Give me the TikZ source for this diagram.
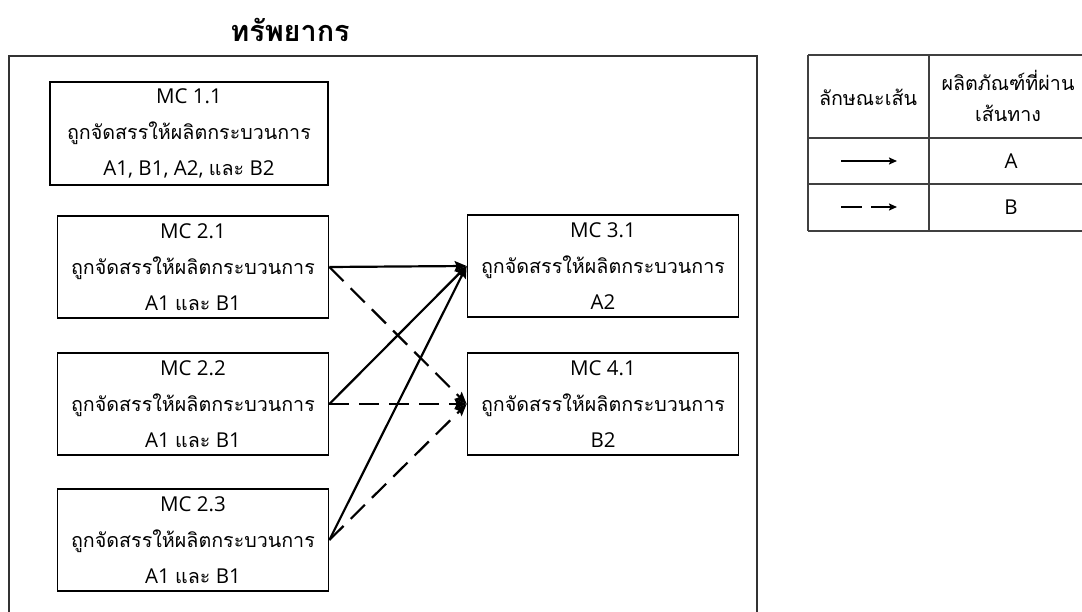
\documentclass[tikz,border=0pt]{standalone}
\usepackage{fontspec}
\setmainfont{Open Sans}
\newfontfamily\thaifont[Script=Thai,Scale=0.96]{Loma}
\newcommand\tha[1]{{\thaifont #1}}
\usetikzlibrary{arrows.meta}
\begin{document}
\begin{tikzpicture}[x=1pt,y=-1pt,
  mcbox/.style={draw, line width=1.7pt, minimum width=271pt, minimum height=102pt,
    align=center, inner sep=0pt, font=\fontsize{20.5}{36}\selectfont},
  flowA/.style={line width=2.2pt, -{Stealth[length=12pt,width=10pt,inset=2pt]}},
  flowB/.style={flowA, dash pattern=on 20pt off 10pt},
  legtext/.style={align=center, inner sep=0pt, font=\fontsize{20.5}{31}\selectfont},
  grid/.style={line width=1.1pt, draw=black!75}]
\clip (0,0) rectangle (1082,612);

% title and resource frame
\node[font=\fontsize{30}{32}\selectfont\bfseries\thaifont] (title) at (290,30) {ทรัพยากร};
\draw[line width=1.4pt, draw=black!80] (9,56) rectangle (757,640);

% machine boxes
\node[mcbox, minimum width=278pt, minimum height=103pt] (mc11) at (189,133.5)
  {MC 1.1\\ \tha{ถูกจัดสรรให้ผลิตกระบวนการ}\\ A1, B1, A2, \tha{และ} B2};
\node[mcbox] (mc21) at (193,267) {MC 2.1\\ \tha{ถูกจัดสรรให้ผลิตกระบวนการ}\\ A1 \tha{และ} B1};
\node[mcbox] (mc22) at (193,404) {MC 2.2\\ \tha{ถูกจัดสรรให้ผลิตกระบวนการ}\\ A1 \tha{และ} B1};
\node[mcbox] (mc23) at (193,540) {MC 2.3\\ \tha{ถูกจัดสรรให้ผลิตกระบวนการ}\\ A1 \tha{และ} B1};
\node[mcbox] (mc31) at (603,266) {MC 3.1\\ \tha{ถูกจัดสรรให้ผลิตกระบวนการ}\\ A2};
\node[mcbox] (mc41) at (603,404) {MC 4.1\\ \tha{ถูกจัดสรรให้ผลิตกระบวนการ}\\ B2};

% product A routes (solid) and product B routes (dashed)
\draw[flowA] (mc21.east) -- (mc31.west);
\draw[flowA] (mc22.east) -- (mc31.west);
\draw[flowA] (mc23.east) -- (mc31.west);
\draw[flowB] (mc21.east) -- (mc41.west);
\draw[flowB] (mc22.east) -- (mc41.west);
\draw[flowB] (mc23.east) -- (mc41.west);

% legend table
\draw[grid] (808,55) -- (1082,55) (808,138) -- (1082,138)
            (808,184) -- (1082,184) (808,231) -- (1082,231)
            (808,55) -- (808,231) (929,55) -- (929,231);
\node[legtext] (hstyle) at (868,97) {\tha{ลักษณะเส้น}};
\node[legtext] (hprod) at (1008,96) {\tha{ผลิตภัณฑ์ที่ผ่าน}\\ \tha{เส้นทาง}};
\node[legtext] (la) at (1011,161) {A};
\node[legtext] (lb) at (1011,207) {B};
\coordinate (sa1) at (841,161); \coordinate (sa2) at (897,161);
\coordinate (sb1) at (841,207); \coordinate (sb2) at (897,207);
\draw[line width=2pt, -{Stealth[length=8pt,width=7pt,inset=1.5pt]}] (sa1) -- (sa2);
\draw[line width=2pt, dash pattern=on 21pt off 9pt, -{Stealth[length=8pt,width=7pt,inset=1.5pt]}] (sb1) -- (sb2);
\end{tikzpicture}
\end{document}
